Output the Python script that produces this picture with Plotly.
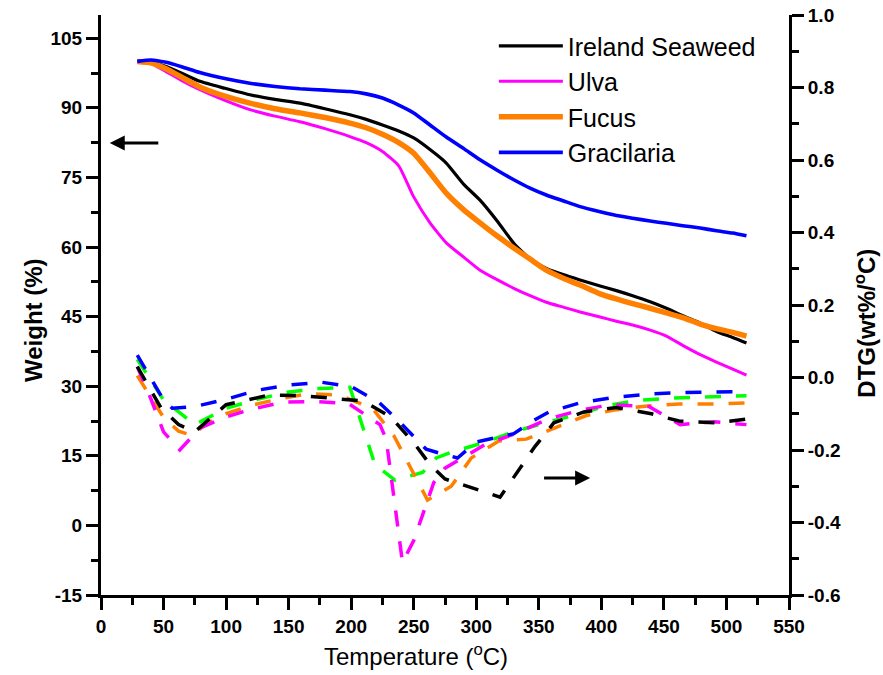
import plotly.graph_objects as go

# ---------------- data ----------------
series_names = ["Ireland Seaweed", "Ulva", "Fucus", "Gracilaria"]

tg_temp = [29, 40, 52, 65, 79, 99, 119, 139, 159, 179, 199, 212, 225, 238, 250, 263, 276,
           290, 303, 317, 330, 343, 356, 370, 383, 399, 412, 425, 439, 452, 465, 479, 492, 505, 516]

tg_ireland = [100.0, 99.9, 98.9, 97.4, 95.7, 94.2, 92.8, 91.8, 91.0, 89.8, 88.5, 87.5, 86.3, 85.0,
              83.5, 81.0, 78.1, 73.5, 70.1, 65.5, 60.8, 57.4, 55.4, 54.0, 52.9, 51.6, 50.6, 49.5,
              48.2, 46.8, 45.2, 43.6, 41.8, 40.5, 39.3]
tg_ulva = [100.0, 99.6, 97.8, 95.8, 93.9, 91.6, 89.6, 88.2, 87.0, 85.5, 83.8, 82.5, 80.6, 77.5,
           70.8, 65.2, 60.9, 57.8, 55.0, 52.9, 51.1, 49.5, 48.1, 47.0, 46.0, 44.9, 44.0, 43.2,
           42.1, 40.8, 38.8, 36.8, 35.2, 33.7, 32.4]
tg_fucus = [100.0, 99.7, 98.4, 96.5, 94.5, 92.5, 91.0, 89.8, 88.9, 87.9, 86.7, 85.7, 84.3, 82.5,
            80.2, 76.0, 71.6, 68.0, 65.2, 62.3, 59.8, 57.4, 55.0, 53.2, 51.8, 49.9, 48.8, 47.8,
            46.8, 45.8, 44.8, 43.4, 42.4, 41.6, 40.8]
tg_gracilaria = [100.0, 100.3, 99.8, 98.8, 97.6, 96.3, 95.3, 94.6, 94.1, 93.8, 93.5, 93.0, 92.1,
                 90.6, 88.9, 86.3, 83.7, 81.2, 78.8, 76.5, 74.5, 72.7, 71.2, 69.9, 68.7, 67.6,
                 66.8, 66.2, 65.6, 65.1, 64.6, 64.1, 63.5, 63.0, 62.4]

# DTG curves (dashed, right axis)
dtg_black_t = [29, 48, 62, 75, 100, 115, 135, 160, 184, 210, 232, 250, 263, 275, 319, 347,
               362, 386, 412, 440, 462, 492, 516]
dtg_black = [0.030, -0.084, -0.13, -0.15, -0.075, -0.063, -0.048, -0.05, -0.057, -0.065, -0.11,
             -0.18, -0.24, -0.28, -0.33, -0.19, -0.125, -0.095, -0.083, -0.10, -0.12, -0.125, -0.115]

dtg_magenta_t = [29, 40, 50, 63, 79, 99, 118, 145, 170, 198, 223, 228, 241, 250, 258, 266, 275,
                 290, 307, 331, 357, 383, 408, 438, 463, 490, 516]
dtg_magenta = [0.03, -0.06, -0.15, -0.2, -0.14, -0.11, -0.09, -0.068, -0.066, -0.072, -0.13, -0.17,
               -0.51, -0.45, -0.37, -0.29, -0.25, -0.22, -0.185, -0.155, -0.115, -0.09, -0.075,
               -0.08, -0.13, -0.122, -0.13]

dtg_orange_t = [29, 50, 62, 73, 85, 100, 121, 145, 166, 190, 217, 234, 261, 280, 296, 318, 340,
                362, 388, 410, 435, 462, 490, 516]
dtg_orange = [0.005, -0.11, -0.148, -0.16, -0.125, -0.1, -0.076, -0.057, -0.045, -0.048, -0.085,
              -0.16, -0.338, -0.30, -0.222, -0.175, -0.17, -0.14, -0.105, -0.09, -0.079, -0.073,
              -0.073, -0.07]

dtg_green_t = [29, 50, 75, 100, 125, 150, 175, 199, 219, 235, 257, 268, 281, 305, 330, 355, 380,
               405, 430, 455, 480, 516]
dtg_green = [0.05, -0.062, -0.13, -0.085, -0.06, -0.04, -0.03, -0.027, -0.24, -0.283, -0.262,
             -0.222, -0.205, -0.181, -0.15, -0.125, -0.103, -0.077, -0.063, -0.057, -0.054, -0.05]

dtg_blue_t = [29, 50, 57, 75, 100, 125, 150, 176, 200, 222, 238, 260, 272, 285, 300, 330, 345,
              358, 383, 410, 437, 462, 490, 516]
dtg_blue = [0.062, -0.062, -0.085, -0.08, -0.06, -0.035, -0.021, -0.013, -0.025, -0.068, -0.12,
            -0.198, -0.21, -0.222, -0.178, -0.155, -0.12, -0.095, -0.07, -0.055, -0.046, -0.042,
            -0.04, -0.039]

x_ticks = [0, 50, 100, 150, 200, 250, 300, 350, 400, 450, 500, 550]
y_ticks = [-15, 0, 15, 30, 45, 60, 75, 90, 105]
y_ticktext = ["-15", "0", "15", "30", "45", "60", "75", "90", "105"]
y2_ticks = [-0.6, -0.4, -0.2, 0.0, 0.2, 0.4, 0.6, 0.8, 1.0]
y2_ticktext = ["-0.6", "-0.4", "-0.2", "0.0", "0.2", "0.4", "0.6", "0.8", "1.0"]

x_title = "Temperature (<sup>o</sup>C)"
y_title = "Weight (%)"
y2_title = "DTG(wt%/<sup>o</sup>C)"

# arrows (data coordinates): left axis arrow and right axis arrow
left_arrow = dict(x_head=7, x_tail=47, y=82.4)
right_arrow = dict(x_head=391, x_tail=353, y=-0.277)

FONT = "Liberation Sans, Arial, sans-serif"

fig = go.Figure()

tg_series = [tg_ireland, tg_ulva, tg_fucus, tg_gracilaria]
tg_colors = ["#000000", "#FF00FF", "#FF8000", "#0000FF"]
tg_widths = [3.2, 3, 5.5, 3.6]
for name, vals, col, w in zip(series_names, tg_series, tg_colors, tg_widths):
    fig.add_trace(go.Scatter(x=tg_temp, y=vals, mode="lines", name=name,
                             line=dict(color=col, width=w, shape="spline", smoothing=0.5),
                             yaxis="y"))

dtg_list = [
    (dtg_green_t, dtg_green, "#00FF00"),
    (dtg_orange_t, dtg_orange, "#FF8000"),
    (dtg_magenta_t, dtg_magenta, "#FF00FF"),
    (dtg_black_t, dtg_black, "#000000"),
    (dtg_blue_t, dtg_blue, "#0000FF"),
]
for t, v, col in dtg_list:
    fig.add_trace(go.Scatter(x=t, y=v, mode="lines", showlegend=False,
                             line=dict(color=col, width=3.5, dash="16px,15px"),
                             yaxis="y2"))

tickfont = dict(family=FONT, size=19, color="black", weight="bold")
common_axis = dict(ticks="outside", ticklen=12, tickwidth=3, tickcolor="black",
                   showline=True, linewidth=3, linecolor="black", showgrid=False,
                   zeroline=False, tickfont=tickfont, automargin=False,
                   ticklabeloverflow="allow")

fig.update_layout(
    width=883, height=675,
    margin=dict(l=101, r=94, t=15, b=80, autoexpand=False),
    paper_bgcolor="white", plot_bgcolor="white",
    font=dict(family=FONT, color="black"),
    xaxis=dict(range=[0, 550], tickmode="array", tickvals=x_ticks,
               minor=dict(ticks="outside", ticklen=7, tickwidth=3, tickcolor="black",
                          tickmode="linear", tick0=0, dtick=25),
               **common_axis),
    yaxis=dict(range=[-15, 110], tickmode="array", tickvals=y_ticks, ticktext=y_ticktext,
               minor=dict(ticks="outside", ticklen=7, tickwidth=3, tickcolor="black",
                          tickmode="linear", tick0=0, dtick=7.5),
               **common_axis),
    yaxis2=dict(range=[-0.6, 1.0], overlaying="y", side="right", anchor="x",
                tickmode="array", tickvals=y2_ticks, ticktext=y2_ticktext,
                minor=dict(ticks="outside", ticklen=7, tickwidth=3, tickcolor="black",
                           tickmode="linear", tick0=0, dtick=0.1),
                **common_axis),
    legend=dict(x=0.571, y=0.986, xanchor="left", yanchor="top",
                bgcolor="rgba(0,0,0,0)", borderwidth=0,
                font=dict(family=FONT, size=25, color="black"),
                itemwidth=64, tracegroupgap=0),
    showlegend=True,
)

# axis titles (placed as in the reference, not centred on the axes)
fig.add_annotation(text=x_title, xref="paper", yref="paper", x=0.458, y=-0.103,
                   xanchor="center", yanchor="middle", showarrow=False,
                   font=dict(family=FONT, size=24, color="black"))
fig.add_annotation(text=y_title, xref="paper", yref="paper", x=-0.099, y=0.474,
                   xanchor="center", yanchor="middle", showarrow=False, textangle=-90,
                   font=dict(family=FONT, size=24, color="black", weight="bold"))
fig.add_annotation(text=y2_title, xref="paper", yref="paper", x=1.110, y=0.469,
                   xanchor="center", yanchor="middle", showarrow=False, textangle=-90,
                   font=dict(family=FONT, size=24, color="black", weight="bold"))

fig.add_annotation(x=left_arrow["x_head"], y=left_arrow["y"], ax=left_arrow["x_tail"],
                   ay=left_arrow["y"], xref="x", yref="y", axref="x", ayref="y",
                   showarrow=True, arrowhead=2, arrowwidth=3, arrowsize=1.0,
                   arrowcolor="black", text="")
fig.add_annotation(x=right_arrow["x_head"], y=right_arrow["y"], ax=right_arrow["x_tail"],
                   ay=right_arrow["y"], xref="x", yref="y2", axref="x", ayref="y2",
                   showarrow=True, arrowhead=2, arrowwidth=3, arrowsize=1.0,
                   arrowcolor="black", text="")

fig.write_html("out.html", config={"displayModeBar": False},
               post_script="document.body.style.margin='0px';")
